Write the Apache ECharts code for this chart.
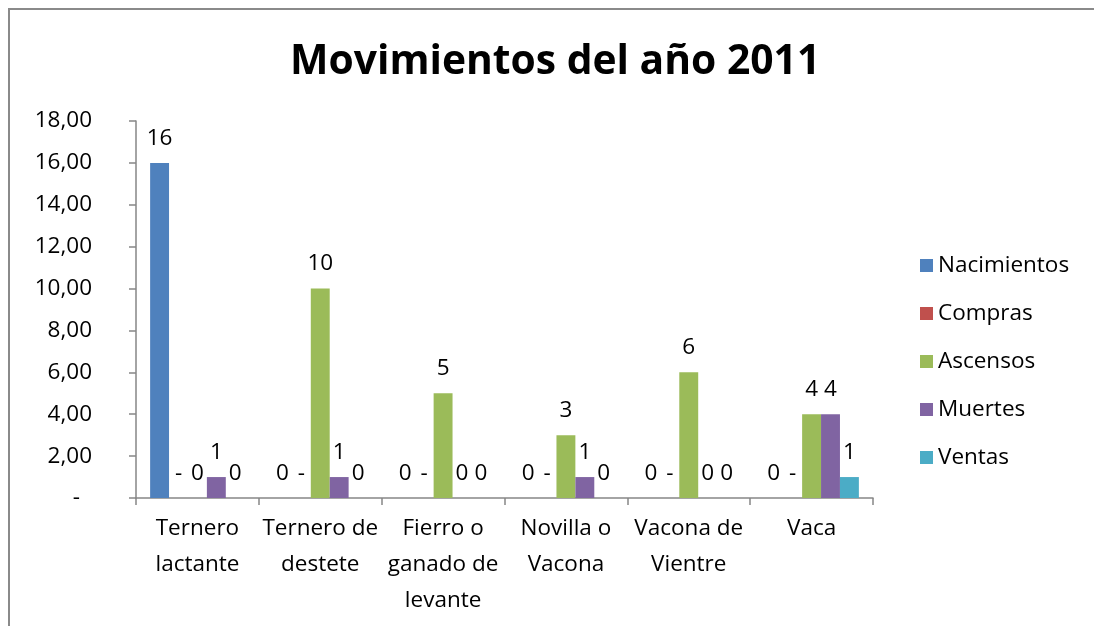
<!DOCTYPE html>
<html>
<head>
<meta charset="utf-8">
<script src="https://cdn.jsdelivr.net/npm/echarts@6/dist/echarts.min.js"></script>
<style>
  html, body { margin: 0; padding: 0; background: #fff; }
  #chart { width: 1094px; height: 626px; }
</style>
</head>
<body>
<div id="chart"></div>
<script>
/* ── data ── */
const categories = [
  "Ternero\nlactante",
  "Ternero de\ndestete",
  "Fierro o\nganado de\nlevante",
  "Novilla o\nVacona",
  "Vacona de\nVientre",
  "Vaca",
];
const seriesNames = ["Nacimientos", "Compras", "Ascensos", "Muertes", "Ventas"];
const nacimientos = [16, 0, 0, 0, 0, 0];
const compras = [0, 0, 0, 0, 0, 0];
const ascensos = [0, 10, 5, 3, 6, 4];
const muertes = [1, 1, 0, 1, 0, 4];
const ventas = [0, 0, 0, 0, 0, 1];

/* ── constants ── */
const COLORS = ["#4F81BD", "#C0504D", "#9BBB59", "#8064A2", "#4BACC6"];
const FONT = "Open Sans, sans-serif";
const FS = 22.5;
const AXIS_GRAY = "#868686";

const chart = echarts.init(document.getElementById("chart"));

const values = [nacimientos, compras, ascensos, muertes, ventas];

// Compras uses accounting format: zero shows as "-"
function labelFor(name) {
  return (p) => (name === "Compras" && p.value === 0 ? "-" : String(p.value));
}

const series = seriesNames.map((name, i) => ({
  name,
  type: "bar",
  data: values[i],
  barGap: "0%",
  barCategoryGap: "23%",
  itemStyle: { color: COLORS[i] },
  label: {
    show: true,
    position: "top",
    distance: 13,
    color: "#000",
    fontFamily: FONT,
    fontSize: FS,
    formatter: labelFor(name),
  },
}));

chart.setOption({
  animation: false,
  graphic: [
    {
      type: "rect",
      shape: { x: 9, y: 9, width: 1200, height: 800 },
      style: { fill: "none", stroke: "#8a8a8a", lineWidth: 2 },
      silent: true,
    },
  ],
  title: {
    text: "Movimientos del año 2011",
    left: 290,
    top: 42,
    padding: 0,
    textStyle: { fontFamily: FONT, fontWeight: "bold", fontSize: 40.8, color: "#000" },
  },
  legend: {
    orient: "vertical",
    left: 915,
    top: 249,
    itemWidth: 13,
    itemHeight: 13,
    itemGap: 25,
    icon: "rect",
    textStyle: { fontFamily: FONT, fontSize: FS, color: "#000" },
    data: seriesNames,
  },
  grid: { left: 136, right: 221, top: 121, bottom: 128 },
  xAxis: {
    type: "category",
    data: categories,
    axisLine: { lineStyle: { color: AXIS_GRAY, width: 1.5 } },
    axisTick: { show: true, inside: false, length: 7, lineStyle: { color: AXIS_GRAY, width: 1.5 } },
    axisLabel: {
      interval: 0,
      margin: 13,
      fontFamily: FONT,
      fontSize: FS,
      lineHeight: 36,
      color: "#000",
    },
  },
  yAxis: {
    type: "value",
    min: 0,
    max: 18,
    interval: 2,
    splitLine: { show: false },
    axisLine: { show: true, lineStyle: { color: AXIS_GRAY, width: 1.5 } },
    axisTick: { show: true, inside: false, length: 7, lineStyle: { color: AXIS_GRAY, width: 1.5 } },
    axisLabel: {
      margin: 44,
      fontFamily: FONT,
      fontSize: FS,
      color: "#000",
      formatter: (v) => (v === 0 ? "{d|-}" : v.toFixed(2).replace(".", ",")),
      rich: { d: { fontFamily: FONT, fontSize: FS, color: "#000", padding: [0, 12, 0, 0] } },
    },
  },
  series,
});
</script>
</body>
</html>
